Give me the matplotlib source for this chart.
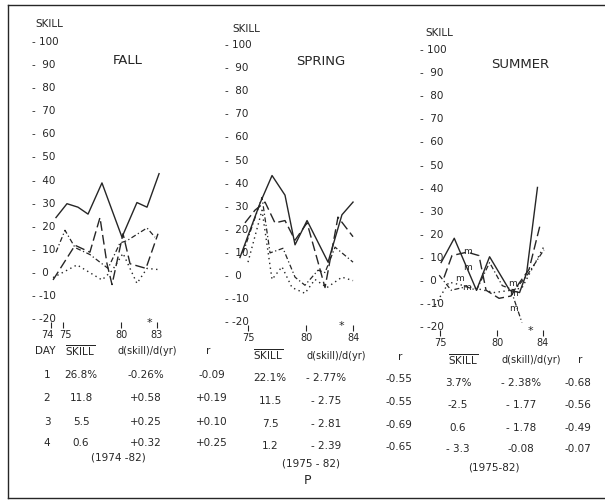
import matplotlib
matplotlib.use("Agg")
import matplotlib.pyplot as plt
import matplotlib.transforms as mtransforms
from matplotlib.lines import Line2D

# ---- data (x in years 19xx, y = skill %) ----
fall_solid_yr = [74.4, 75.34, 76.28, 77.14, 78.33, 80.04, 81.32, 82.18, 83.21]
fall_solid = [24, 30, 28.5, 25.5, 39, 15.5, 30.5, 28.5, 43]
fall_dashdot_yr = [74.4, 75.17, 76.03, 77.3, 78.85, 79.87, 80.47, 82.18, 82.86]
fall_dashdot = [9, 18.5, 11, 8, 2, 13, 14, 19.5, 15.5]
fall_dash_yr = [74.15, 76.03, 77.3, 78.16, 78.76, 79.19, 80.13, 80.73, 82.09, 83.12]
fall_dash = [-3, 12, 9, 24, 4, -5, 17, 4, 2, 17]
fall_dot_yr = [74.15, 76.2, 78.33, 79.19, 80.13, 81.32, 82.18, 83.12]
fall_dot = [-2, 3.5, -3, 1, 8.5, -4.5, 2, 1.5]

spring_solid_yr = [74.31, 76.03, 77.06, 78.17, 79.03, 80.06, 81.86, 83.05, 84.0]
spring_solid = [8, 31.5, 43.5, 35, 13.5, 24, 6, 26.5, 32]
spring_dash_yr = [74.74, 75.6, 76.46, 77.31, 78.17, 79.03, 80.06, 81.0, 81.6, 82.71, 84.0]
spring_dash = [23, 28.5, 32, 23, 24, 15.5, 23, 6, -5, 25.5, 17]
spring_dashdot_yr = [74.57, 76.2, 76.89, 78.0, 79.03, 79.88, 81.0, 81.6, 82.46, 84.0]
spring_dashdot = [10, 34, 10, 12, -0.5, -4, 2.5, 1.5, 12.5, 6]
spring_dot_yr = [75.0, 76.2, 77.06, 77.91, 78.77, 79.88, 80.74, 81.77, 83.05, 84.0]
spring_dot = [6, 28.5, -1.5, 4, -5, -7.5, -1.5, -5, -0.5, -2]

summer_solid_yr = [75.1, 76.25, 78.2, 79.35, 81.1, 81.98, 82.6, 83.55]
summer_solid = [8, 18.5, -4, 10.5, -4, -5, 3.5, 40.5]
summer_dash_yr = [75.35, 76.05, 77.37, 78.42, 79.04, 80.18, 81.23, 81.93, 82.81, 83.77]
summer_dash = [1.5, 11, 12.5, 11, -4, -7.5, -6.5, -1, 5, 24]
summer_dashdot_yr = [74.93, 75.98, 77.3, 78.2, 79.35, 80.46, 81.5, 82.58, 84.12]
summer_dashdot = [2.5, -4, -2.5, -4, 8, -2, -4, 2, 13.5]
summer_dot_yr = [74.56, 75.79, 77.98, 79.74, 81.23, 82.19, 84.12]
summer_dot = [-10.5, -0.5, -3, -5, -4, -3, 15]
summer_drop_yr = [81.23, 82.19]
summer_drop = [-4, -18]
summer_m_yr = [77.37, 77.37, 76.67, 77.3, 81.32, 81.49, 81.49]
summer_m_val = [12.6, 6, 0.9, -2.6, -0.9, -5.2, -11.7]

skill_ticks = [100, 90, 80, 70, 60, 50, 40, 30, 20, 10, 0, -10, -20]
fall_years = [74, 75, 80, 83]
other_years = [75, 80, 84]

day_labels = ["1", "2", "3", "4"]
fall_skill = ["26.8%", "11.8", "5.5", "0.6"]
fall_trend = ["-0.26%", "+0.58", "+0.25", "+0.32"]
fall_r = ["-0.09", "+0.19", "+0.10", "+0.25"]
spring_skill = ["22.1%", "11.5", "7.5", "1.2"]
spring_trend = ["- 2.77%", "- 2.75", "- 2.81", "- 2.39"]
spring_r = ["-0.55", "-0.55", "-0.69", "-0.65"]
summer_skill = ["3.7%", "-2.5", "0.6", "- 3.3"]
summer_trend = ["- 2.38%", "- 1.77", "- 1.78", "-0.08"]
summer_r = ["-0.68", "-0.56", "-0.49", "-0.07"]

INK = "#262626"
W, H = 605, 501
plt.rcParams["font.family"] = ["DejaVu Sans"]
plt.rcParams["mathtext.fontset"] = "custom"
plt.rcParams["mathtext.rm"] = "DejaVu Sans"

fig = plt.figure(figsize=(W / 100, H / 100), dpi=100)
fig.patch.set_facecolor("white")

YS = 2.31  # px per skill unit
YLO, YHI = -23.6, 110


def ftext(x, y, s, size=7.5, **kw):
    kw.setdefault("ha", "center")
    kw.setdefault("va", "center")
    fig.text(x / W, 1 - y / H, s, fontsize=size, color=INK, **kw)


def panel(x75, xs, y0, years):
    xa, xb = 72.0, 86.0
    left = x75 + xs * (xa - 75)
    right = x75 + xs * (xb - 75)
    top = y0 - YS * YHI
    bottom = y0 - YS * YLO
    ax = fig.add_axes([left / W, 1 - bottom / H, (right - left) / W, (bottom - top) / H])
    ax.set_xlim(xa, xb)
    ax.set_ylim(YLO, YHI)
    ax.patch.set_alpha(0)
    for s in ax.spines.values():
        s.set_visible(False)
    ax.tick_params(axis="y", left=False, labelleft=False)
    ax.set_xticks(years, [str(y) for y in years])
    ax.tick_params(axis="x", direction="in", length=4, width=0.8, pad=1.5,
                   labelsize=7, colors=INK)
    return ax


def ylabels(ax, xpx):
    tr = mtransforms.blended_transform_factory(fig.transFigure, ax.transData)
    for v in skill_ticks:
        if v == 100 or v < 0:
            s = f"- {v}"
        else:
            s = f"-  {v}"
        ax.text(xpx / W, v, s, transform=tr, fontsize=7.5, color=INK,
                ha="left", va="center")


def draw(ax, solid, dash, dashdot, dot):
    kw = dict(color=INK, lw=1.0)
    ax.plot(*solid, ls="-", **kw)
    ax.plot(*dash, ls=(0, (7, 3)), **kw)
    ax.plot(*dashdot, ls=(0, (4, 2, 1, 2)), lw=0.9, color=INK)
    ax.plot(*dot, ls=(0, (1, 2.5)), lw=1.0, color=INK)


# FALL
ax1 = panel(63, 11.7, 273, fall_years)
# nudge "74" left and "75" right so they don't touch
lbls = ax1.get_xticklabels()
lbls[0].set_transform(lbls[0].get_transform() +
                      mtransforms.ScaledTranslation(-2.5 / 72, 0, fig.dpi_scale_trans))
lbls[1].set_transform(lbls[1].get_transform() +
                      mtransforms.ScaledTranslation(1.5 / 72, 0, fig.dpi_scale_trans))
draw(ax1, (fall_solid_yr, fall_solid), (fall_dash_yr, fall_dash),
     (fall_dashdot_yr, fall_dashdot), (fall_dot_yr, fall_dot))
ylabels(ax1, 32)
ax1.text(82.35, YLO + 1.8, "*", ha="center", va="center", fontsize=8, color=INK)
ftext(35, 24, "SKILL", ha="left")
ftext(128, 60, "FALL", size=9.5)

# SPRING
ax2 = panel(248, 11.67, 276, other_years)
draw(ax2, (spring_solid_yr, spring_solid), (spring_dash_yr, spring_dash),
     (spring_dashdot_yr, spring_dashdot), (spring_dot_yr, spring_dot))
ylabels(ax2, 225)
ax2.text(83.0, YLO + 1.8, "*", ha="center", va="center", fontsize=8, color=INK)
ftext(232, 29, "SKILL", ha="left")
ftext(321, 62, "SPRING", size=9.5)

# SUMMER
ax3 = panel(440, 11.4, 281, other_years)
draw(ax3, (summer_solid_yr, summer_solid), (summer_dash_yr, summer_dash),
     (summer_dashdot_yr, summer_dashdot), (summer_dot_yr, summer_dot))
ax3.plot(summer_drop_yr, summer_drop, ls=(0, (4, 2, 1, 2)), lw=0.9, color=INK)
for xm, ym in zip(summer_m_yr, summer_m_val):
    ax3.text(xm, ym, "m", ha="center", va="center", fontsize=6.5, color=INK)
ylabels(ax3, 420)
ax3.text(82.95, YLO + 1.8, "*", ha="center", va="center", fontsize=8, color=INK)
ftext(425, 33, "SKILL", ha="left")
ftext(520, 65, "SUMMER", size=9.5)

# table under the panels
over = r"$\overline{\mathrm{SKILL}}$"
ftext(45, 351, "DAY")
ftext(80, 351, over)
ftext(147, 351, "d(skill)/d(yr)", size=7)
ftext(208, 351, "r")
ftext(268, 355, over)
ftext(336, 356, "d(skill)/d(yr)", size=7)
ftext(400, 357, "r")
ftext(463, 360, over)
ftext(531, 360, "d(skill)/d(yr)", size=7)
ftext(580, 360, "r")

fall_rows = [375, 398, 422, 443]
spring_rows = [378, 401, 424, 446]
summer_rows = [383, 405, 428, 449]
for i in range(4):
    ftext(47, fall_rows[i], day_labels[i])
    ftext(81, fall_rows[i], fall_skill[i])
    ftext(146, fall_rows[i], fall_trend[i])
    ftext(212, fall_rows[i], fall_r[i])
    ftext(270, spring_rows[i], spring_skill[i])
    ftext(326, spring_rows[i], spring_trend[i])
    ftext(399, spring_rows[i] + 1, spring_r[i])
    ftext(458, summer_rows[i], summer_skill[i])
    ftext(521, summer_rows[i], summer_trend[i])
    ftext(578, summer_rows[i], summer_r[i])

ftext(118, 457, "(1974 -82)")
ftext(311, 463, "(1975 - 82)")
ftext(494, 467, "(1975-82)")
ftext(308, 481, "P", size=9)

# page frame
for xs_, ys_ in [([8, 8], [5, 498]), ([8, 605], [5, 5]), ([8, 605], [498, 498])]:
    fig.add_artist(Line2D([x / W for x in xs_], [1 - y / H for y in ys_],
                          transform=fig.transFigure, color=INK, lw=1.0))

fig.savefig("out.png", dpi=100)
